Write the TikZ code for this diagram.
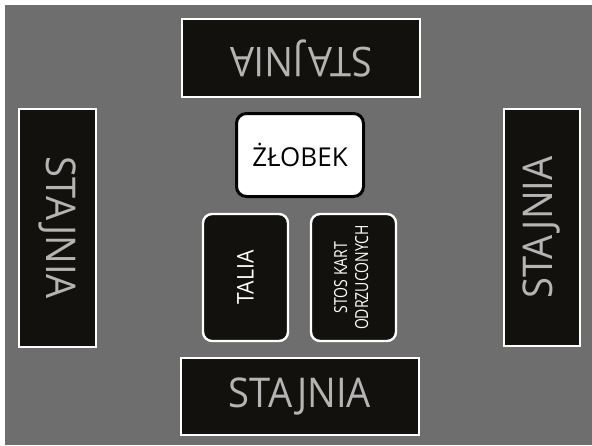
\documentclass[tikz,border=0pt]{standalone}
\usepackage{fontspec}
\setmainfont{Open Sans}
\definecolor{bg}{HTML}{6E6E6E}
\definecolor{boxblack}{HTML}{12110D}
\definecolor{txtgray}{HTML}{B4B4B4}
\newcommand{\stajfont}{\fontsize{41}{41}\selectfont}
\begin{document}
\begin{tikzpicture}[x=1pt,y=-1pt,
  stablebox/.style={draw=white, line width=2.4pt, fill=boxblack, text=txtgray, inner sep=0pt, font=\stajfont},
  cardbox/.style={draw=white, line width=2.4pt, fill=boxblack, rounded corners=9pt, text=white, inner sep=0pt, minimum width=85pt, minimum height=127pt},
  cribbox/.style={draw=black, line width=3pt, fill=white, rounded corners=10pt, text=black, inner sep=0pt, minimum width=127pt, minimum height=83pt, font=\fontsize{26}{26}\selectfont}
]
\fill[white] (0,0) rectangle (592,445);
\fill[bg] (5,5) rectangle (592,445);
\useasboundingbox (0,0) rectangle (592,445);

\node[stablebox, minimum width=238pt, minimum height=78pt] (top) at (301,58) {\rotatebox{180}{\scalebox{0.93}[1]{STAJNIA}}};
\node[stablebox, minimum width=77pt, minimum height=238pt] (left) at (57.5,228) {\rotatebox{-90}{\scalebox{0.93}[1]{STAJNIA}}};
\node[stablebox, minimum width=76pt, minimum height=237pt] (right) at (542,227.5) {\rotatebox{90}{\scalebox{0.93}[1]{STAJNIA}}};
\node[stablebox, minimum width=238pt, minimum height=77pt] (bottom) at (300,396.5) {\scalebox{0.93}[1]{STAJNIA}};

\node[cribbox] (crib) at (300,155) {ŻŁOBEK};
\node[cardbox, font=\fontsize{23}{23}\selectfont] (deck) at (245.5,277.5) {\rotatebox{90}{\scalebox{0.92}[1]{TALIA}}};
\node[cardbox, font=\fontsize{18}{21}\selectfont] (discard) at (353.5,277.5) {\rotatebox{90}{\scalebox{0.78}[1]{\begin{tabular}{@{}c@{}}STOS KART\\ODRZUCONYCH\end{tabular}}}};
\end{tikzpicture}
\end{document}
